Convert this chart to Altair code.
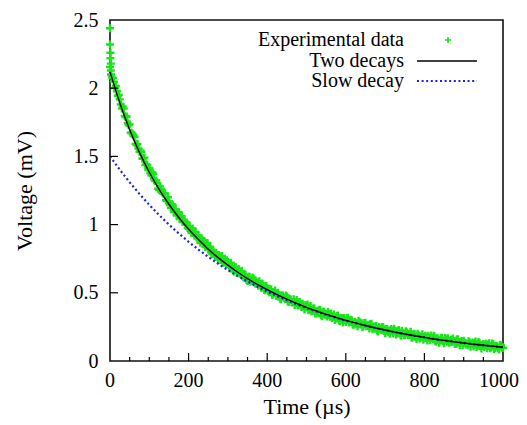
import altair as alt
import pandas as pd

# Fitted curves (every 25 us)
curve_time = [0, 25, 50, 75, 100, 125, 150, 175, 200, 225, 250, 275, 300, 325, 350,
              375, 400, 425, 450, 475, 500, 525, 550, 575, 600, 625, 650, 675, 700,
              725, 750, 775, 800, 825, 850, 875, 900, 925, 950, 975, 1000]
two_decays = [2.120, 1.891, 1.695, 1.528, 1.384, 1.258, 1.149, 1.052, 0.966, 0.890,
              0.820, 0.758, 0.703, 0.651, 0.604, 0.561, 0.523, 0.487, 0.454, 0.423,
              0.393, 0.367, 0.342, 0.320, 0.298, 0.279, 0.260, 0.243, 0.227, 0.212,
              0.198, 0.185, 0.173, 0.161, 0.151, 0.141, 0.132, 0.123, 0.115, 0.108, 0.101]
slow_decay = [1.500, 1.402, 1.310, 1.225, 1.145, 1.070, 1.000, 0.935, 0.874, 0.817,
              0.763, 0.713, 0.667, 0.623, 0.582, 0.544, 0.509, 0.476, 0.445, 0.416,
              0.388, 0.363, 0.339, 0.317, 0.296, 0.277, 0.259, 0.242, 0.226, 0.211,
              0.198, 0.185, 0.173, 0.161, 0.151, 0.141, 0.132, 0.123, 0.115, 0.108, 0.101]

exp_time_a = [0, 0, 1, 1, 2, 2, 3,
              0, 5, 10, 15, 20, 25, 30, 35, 40, 45, 50, 55, 60, 65, 70, 75, 80, 85, 90, 95,
              100, 105, 110, 115, 120, 125, 130, 135, 140, 145, 150, 155, 160, 165, 170, 175,
              180, 185, 190, 195, 200, 205, 210, 215, 220, 225, 230, 235, 240, 245, 250, 255,
              260, 265, 270, 275, 280, 285, 290, 295, 300, 305, 310, 315, 320, 325, 330, 335,
              340, 345, 350, 355, 360, 365, 370, 375, 380, 385, 390, 395, 400, 405, 410, 415,
              420, 425, 430, 435, 440, 445, 450, 455, 460, 465, 470, 475, 480, 485, 490, 495,
              500, 505, 510, 515, 520, 525, 530, 535, 540, 545, 550, 555, 560, 565, 570, 575,
              580, 585, 590, 595, 600, 605, 610, 615, 620, 625, 630, 635, 640, 645, 650, 655,
              660, 665, 670, 675, 680, 685, 690, 695, 700, 705, 710, 715, 720, 725, 730, 735,
              740, 745, 750, 755, 760, 765, 770, 775, 780, 785, 790, 795, 800, 805, 810, 815,
              820, 825, 830, 835, 840, 845, 850, 855, 860, 865, 870, 875, 880, 885, 890, 895,
              900, 905, 910, 915, 920, 925, 930, 935, 940, 945, 950, 955, 960, 965, 970, 975,
              980, 985, 990, 995, 1000]
exp_voltage_a = [2.44, 2.32, 2.26, 2.22, 2.18, 2.13, 2.10,
                 2.155, 2.079, 2.048, 2.016, 1.944, 1.918, 1.852, 1.850, 1.788, 1.743,
                 1.735, 1.674, 1.653, 1.592, 1.590, 1.534, 1.533, 1.487, 1.436, 1.436,
                 1.415, 1.362, 1.373, 1.319, 1.304, 1.256, 1.262, 1.228, 1.229, 1.173,
                 1.167, 1.123, 1.140, 1.113, 1.067, 1.090, 1.044, 1.019, 1.024, 1.016,
                 0.970, 0.970, 0.971, 0.919, 0.921, 0.918, 0.867, 0.885, 0.880, 0.842,
                 0.826, 0.838, 0.785, 0.796, 0.790, 0.746, 0.765, 0.770, 0.724, 0.719,
                 0.726, 0.688, 0.696, 0.657, 0.688, 0.661, 0.642, 0.661, 0.616, 0.630,
                 0.587, 0.617, 0.591, 0.604, 0.567, 0.576, 0.585, 0.537, 0.547, 0.519,
                 0.534, 0.511, 0.525, 0.489, 0.517, 0.480, 0.483, 0.453, 0.480, 0.466,
                 0.473, 0.434, 0.451, 0.433, 0.411, 0.448, 0.407, 0.415, 0.420, 0.377,
                 0.401, 0.372, 0.403, 0.371, 0.384, 0.348, 0.363, 0.374, 0.328, 0.357,
                 0.347, 0.359, 0.324, 0.316, 0.340, 0.317, 0.334, 0.291, 0.314, 0.316,
                 0.286, 0.317, 0.285, 0.298, 0.266, 0.281, 0.254, 0.286, 0.277, 0.256,
                 0.280, 0.256, 0.238, 0.274, 0.236, 0.249, 0.222, 0.250, 0.229, 0.249,
                 0.204, 0.234, 0.224, 0.235, 0.201, 0.224, 0.202, 0.228, 0.185, 0.206,
                 0.189, 0.211, 0.191, 0.215, 0.172, 0.199, 0.161, 0.188, 0.167, 0.196,
                 0.168, 0.172, 0.186, 0.153, 0.172, 0.185, 0.142, 0.163, 0.152, 0.168,
                 0.131, 0.160, 0.166, 0.137, 0.142, 0.148, 0.125, 0.160, 0.115, 0.147,
                 0.149, 0.124, 0.116, 0.137, 0.127, 0.107, 0.143, 0.116, 0.132, 0.091,
                 0.124, 0.117, 0.094, 0.131, 0.102, 0.123, 0.096, 0.110, 0.085, 0.114,
                 0.097]

exp_time_b = [2.5, 7.5, 12.5, 17.5, 22.5, 27.5, 32.5, 37.5, 42.5, 47.5,
              52.5, 57.5, 62.5, 67.5, 72.5, 77.5, 82.5, 87.5, 92.5, 97.5,
              102.5, 107.5, 112.5, 117.5, 122.5, 127.5, 132.5, 137.5, 142.5, 147.5,
              152.5, 157.5, 162.5, 167.5, 172.5, 177.5, 182.5, 187.5, 192.5, 197.5,
              202.5, 207.5, 212.5, 217.5, 222.5, 227.5, 232.5, 237.5, 242.5, 247.5,
              252.5, 257.5, 262.5, 267.5, 272.5, 277.5, 282.5, 287.5, 292.5, 297.5,
              302.5, 307.5, 312.5, 317.5, 322.5, 327.5, 332.5, 337.5, 342.5, 347.5,
              352.5, 357.5, 362.5, 367.5, 372.5, 377.5, 382.5, 387.5, 392.5, 397.5,
              402.5, 407.5, 412.5, 417.5, 422.5, 427.5, 432.5, 437.5, 442.5, 447.5,
              452.5, 457.5, 462.5, 467.5, 472.5, 477.5, 482.5, 487.5, 492.5, 497.5,
              502.5, 507.5, 512.5, 517.5, 522.5, 527.5, 532.5, 537.5, 542.5, 547.5,
              552.5, 557.5, 562.5, 567.5, 572.5, 577.5, 582.5, 587.5, 592.5, 597.5,
              602.5, 607.5, 612.5, 617.5, 622.5, 627.5, 632.5, 637.5, 642.5, 647.5,
              652.5, 657.5, 662.5, 667.5, 672.5, 677.5, 682.5, 687.5, 692.5, 697.5,
              702.5, 707.5, 712.5, 717.5, 722.5, 727.5, 732.5, 737.5, 742.5, 747.5,
              752.5, 757.5, 762.5, 767.5, 772.5, 777.5, 782.5, 787.5, 792.5, 797.5,
              802.5, 807.5, 812.5, 817.5, 822.5, 827.5, 832.5, 837.5, 842.5, 847.5,
              852.5, 857.5, 862.5, 867.5, 872.5, 877.5, 882.5, 887.5, 892.5, 897.5,
              902.5, 907.5, 912.5, 917.5, 922.5, 927.5, 932.5, 937.5, 942.5, 947.5,
              952.5, 957.5, 962.5, 967.5, 972.5, 977.5, 982.5, 987.5, 992.5, 997.5]
exp_voltage_b = [2.097, 2.074, 2.001, 1.978, 1.951, 1.880, 1.866, 1.796, 1.793, 1.728,
                 1.673, 1.666, 1.643, 1.583, 1.556, 1.542, 1.483, 1.491, 1.442, 1.400,
                 1.378, 1.383, 1.330, 1.323, 1.263, 1.280, 1.237, 1.228, 1.178, 1.200,
                 1.143, 1.149, 1.092, 1.100, 1.087, 1.041, 1.062, 1.026, 1.000, 0.975,
                 0.985, 0.938, 0.938, 0.947, 0.920, 0.885, 0.900, 0.860, 0.836, 0.865,
                 0.828, 0.796, 0.809, 0.763, 0.775, 0.778, 0.746, 0.720, 0.737, 0.738,
                 0.698, 0.720, 0.674, 0.688, 0.648, 0.675, 0.643, 0.623, 0.631, 0.593,
                 0.618, 0.581, 0.613, 0.575, 0.578, 0.551, 0.557, 0.569, 0.521, 0.550,
                 0.514, 0.526, 0.484, 0.506, 0.479, 0.500, 0.458, 0.481, 0.461, 0.481,
                 0.434, 0.450, 0.430, 0.453, 0.428, 0.409, 0.433, 0.395, 0.398, 0.410,
                 0.414, 0.378, 0.365, 0.385, 0.350, 0.369, 0.376, 0.333, 0.362, 0.339,
                 0.326, 0.345, 0.349, 0.326, 0.301, 0.330, 0.298, 0.316, 0.282, 0.303,
                 0.315, 0.283, 0.303, 0.267, 0.287, 0.267, 0.295, 0.267, 0.250, 0.279,
                 0.254, 0.266, 0.272, 0.236, 0.246, 0.257, 0.216, 0.239, 0.250, 0.220,
                 0.234, 0.211, 0.200, 0.223, 0.236, 0.195, 0.221, 0.199, 0.222, 0.189,
                 0.218, 0.190, 0.202, 0.172, 0.194, 0.176, 0.200, 0.165, 0.180, 0.155,
                 0.185, 0.150, 0.172, 0.187, 0.160, 0.148, 0.167, 0.134, 0.170, 0.146,
                 0.168, 0.141, 0.133, 0.155, 0.165, 0.125, 0.158, 0.134, 0.141, 0.115,
                 0.135, 0.120, 0.144, 0.105, 0.136, 0.132, 0.102, 0.140, 0.110, 0.117,
                 0.102, 0.127, 0.119, 0.094, 0.128, 0.088, 0.112, 0.095, 0.120, 0.097]

x_ticks = [0, 200, 400, 600, 800]
x_last_tick = [1000]
y_ticks = [0, 0.5, 1, 1.5, 2, 2.5]
x_minor = [50, 100, 150, 250, 300, 350, 450, 500, 550, 650, 700, 750, 850, 900, 950]
x_major = [200, 400, 600, 800]
y_major = [0.5, 1, 1.5, 2]

legend_labels = ["Experimental data", "Two decays", "Slow decay"]

FONT = "Liberation Serif"
GREEN = "#19e619"
BLUE = "#1f1fe6"
W, H = 393, 341
PLUS = "M-1,0L1,0M0,-1L0,1"

xs = alt.Scale(domain=[0, 1000], nice=False, zero=False)
ys = alt.Scale(domain=[0, 2.5], nice=False)

exp_df = pd.DataFrame({"t": exp_time_a + exp_time_b, "v": exp_voltage_a + exp_voltage_b})
curve_df = pd.DataFrame({"t": curve_time, "two": two_decays, "slow": slow_decay})

pts = alt.Chart(exp_df).mark_point(
    shape=PLUS, filled=False, stroke=GREEN, strokeWidth=2.4, size=64, clip=False, opacity=1
).encode(
    x=alt.X("t:Q", scale=xs,
            axis=alt.Axis(values=x_ticks + x_last_tick, labels=False, title="Time (\u00b5s)",
                          titlePadding=35)),
    y=alt.Y("v:Q", scale=ys,
            axis=alt.Axis(values=y_ticks, format="~g", title="Voltage (mV)",
                          labelFlush=False, labelPadding=12, titlePadding=37)),
)

slow_line = alt.Chart(curve_df).mark_line(
    color=BLUE, strokeWidth=2.2, strokeDash=[2, 2.6]
).encode(x=alt.X("t:Q", scale=xs), y=alt.Y("slow:Q", scale=ys))

two_line = alt.Chart(curve_df).mark_line(
    color="black", strokeWidth=1.4, interpolate="monotone"
).encode(x=alt.X("t:Q", scale=xs), y=alt.Y("two:Q", scale=ys))

minor_df = pd.DataFrame({"t": x_minor})
major_df = pd.DataFrame({"t": x_major})
ymaj_df = pd.DataFrame({"v": y_major})

minor_ticks = alt.Chart(minor_df).mark_rule(color="black", strokeWidth=1.2).encode(
    x=alt.X("t:Q", scale=xs), y=alt.value(H), y2=alt.value(H - 4))
major_ticks = alt.Chart(major_df).mark_rule(color="black", strokeWidth=1.2).encode(
    x=alt.X("t:Q", scale=xs), y=alt.value(H), y2=alt.value(H - 8))
y_tick_marks = alt.Chart(ymaj_df).mark_rule(color="black", strokeWidth=1.2).encode(
    y=alt.Y("v:Q", scale=ys), x=alt.value(0), x2=alt.value(8))

# x tick labels drawn as text so the last one can sit just inside the page
xlab = alt.Chart(pd.DataFrame({"t": x_ticks})).mark_text(
    baseline="top", align="center", font=FONT, fontSize=20, color="black"
).encode(x=alt.X("t:Q", scale=xs), y=alt.value(H + 10), text=alt.Text("t:Q", format="d"))
xlab_last = alt.Chart(pd.DataFrame({"t": x_last_tick})).mark_text(
    baseline="top", align="center", font=FONT, fontSize=20, color="black", dx=-4
).encode(x=alt.X("t:Q", scale=xs), y=alt.value(H + 10), text=alt.Text("t:Q", format="d"))

leg_rows = [20, 41, 61]
legend_layers = []
for lab, yy in zip(legend_labels, leg_rows):
    legend_layers.append(
        alt.Chart(pd.DataFrame({"label": [lab]})).mark_text(
            align="right", baseline="middle", font=FONT, fontSize=20, color="black"
        ).encode(x=alt.value(294), y=alt.value(yy), text="label:N")
    )
leg_plus = alt.Chart(pd.DataFrame({"label": [legend_labels[0]]})).mark_point(
    shape=PLUS, filled=False, stroke=GREEN, strokeWidth=1.6, size=36, opacity=1
).encode(x=alt.value(338), y=alt.value(leg_rows[0]))
leg_two = alt.Chart(pd.DataFrame({"label": [legend_labels[1]]})).mark_rule(
    color="black", strokeWidth=1.4
).encode(x=alt.value(307), x2=alt.value(367), y=alt.value(leg_rows[1]))
leg_slow = alt.Chart(pd.DataFrame({"label": [legend_labels[2]]})).mark_rule(
    color=BLUE, strokeWidth=2.2, strokeDash=[2, 2.6]
).encode(x=alt.value(307), x2=alt.value(367), y=alt.value(leg_rows[2]))

chart = alt.layer(
    pts, slow_line, two_line, minor_ticks, major_ticks, y_tick_marks, xlab, xlab_last,
    *legend_layers, leg_plus, leg_two, leg_slow
).properties(
    width=W, height=H,
    background="white",
    autosize=alt.AutoSizeParams(type="none"),
    padding={"left": 102, "top": 12, "right": 16, "bottom": 60},
).configure_view(
    stroke="#111111", strokeWidth=1.6
).configure_axis(
    grid=False, domain=False, ticks=False,
    labelFont=FONT, labelFontSize=20, labelColor="black",
    titleFont=FONT, titleFontSize=22, titleColor="black", titleFontWeight="normal",
)

chart.save("out.html", embed_options={"renderer": "svg", "actions": False})
